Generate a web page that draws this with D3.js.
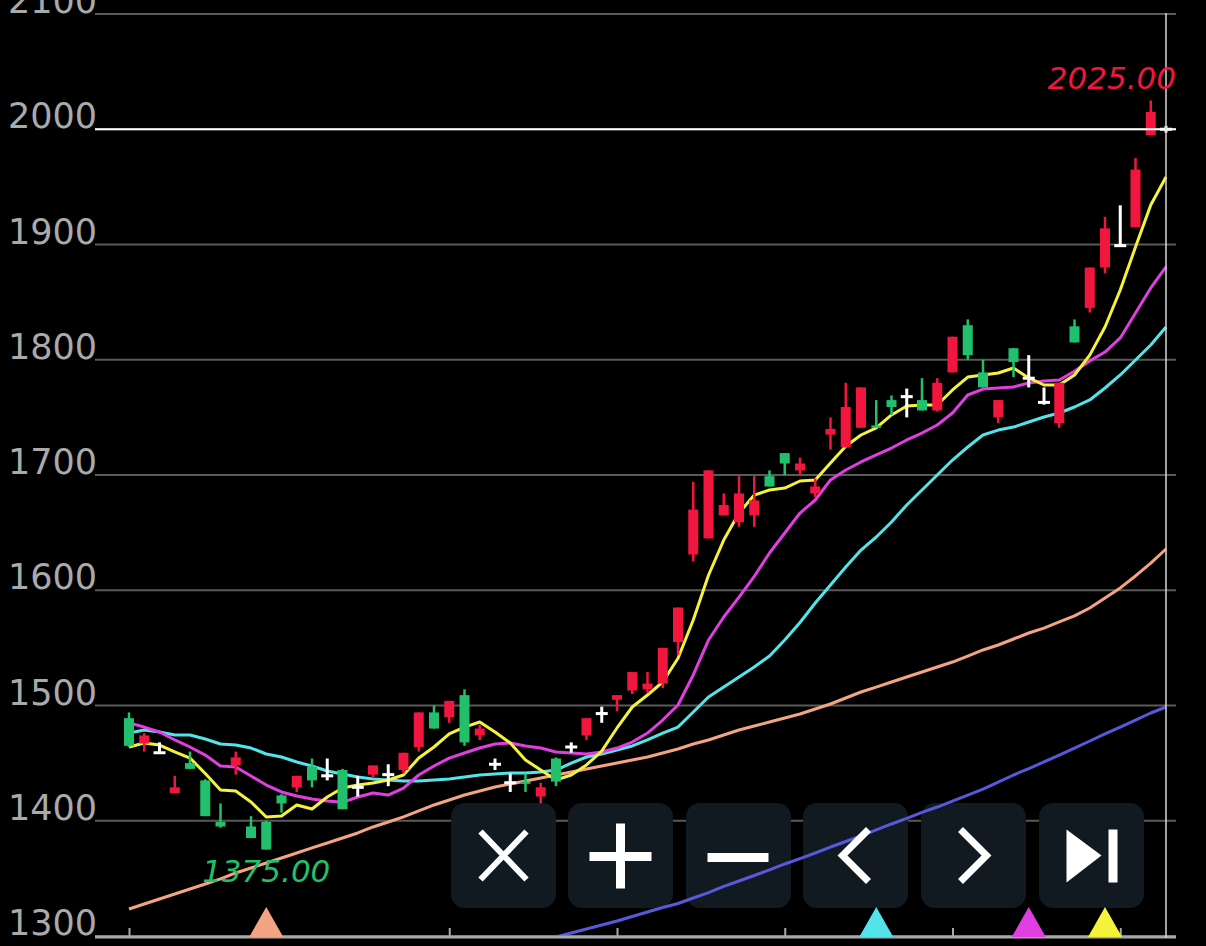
<!DOCTYPE html>
<html>
<head>
<meta charset="utf-8">
<script src="https://cdn.jsdelivr.net/npm/d3@7/dist/d3.min.js"></script>
<style>
  html, body { margin: 0; padding: 0; background: #000; }
  svg { display: block; }
</style>
</head>
<body>
<svg id="chart" width="1206" height="946"></svg>
<script>
// ---------------- DATA ----------------
const opens  = [1489,1467,1459,1424,1450,1435,1399,1448,1395,1399,1422,1429,1447,1439,1444,1429,1440,1440,1444,1464,1494,1490,1509,1474,1449,1433,1434,1421,1454,1464,1474,1493,1505,1513,1514,1519,1555,1631,1645,1665,1659,1665,1699,1719,1704,1684,1735,1724,1741,1743,1765,1768,1765,1756,1789,1830,1789,1750,1810,1784,1763,1745,1829,1845,1880,1899,1915,1995,2000];
const highs  = [1494,1476,1468,1439,1460,1436,1415,1460,1404,1400,1423,1439,1454,1454,1445,1439,1448,1449,1459,1494,1500,1504,1514,1483,1454,1441,1441,1433,1455,1468,1489,1499,1509,1529,1529,1550,1585,1694,1704,1684,1699,1699,1704,1719,1715,1697,1750,1780,1776,1765,1769,1775,1784,1784,1820,1835,1800,1765,1810,1804,1776,1780,1835,1880,1924,1934,1975,2025,2003];
const lows   = [1464,1460,1458,1424,1445,1404,1394,1440,1385,1375,1407,1425,1429,1435,1410,1421,1437,1430,1441,1460,1480,1485,1465,1470,1444,1425,1425,1415,1430,1459,1470,1485,1495,1510,1511,1515,1544,1625,1645,1665,1655,1655,1690,1700,1700,1681,1722,1724,1741,1741,1752,1750,1756,1755,1789,1800,1776,1745,1785,1776,1761,1741,1815,1841,1875,1898,1915,1995,1997];
const closes = [1465,1474,1459,1429,1445,1404,1395,1455,1385,1375,1415,1439,1435,1439,1410,1429,1448,1440,1459,1494,1480,1504,1468,1480,1449,1433,1432,1429,1434,1464,1489,1493,1509,1529,1519,1550,1585,1670,1704,1674,1684,1678,1690,1710,1710,1690,1740,1759,1776,1741,1759,1768,1756,1780,1820,1804,1776,1765,1798,1784,1763,1780,1815,1880,1914,1899,1965,2015,2000];

const ma5   = [1464,1467.5,1465.7,1459.7,1454.4,1441,1426.7,1425.8,1416.3,1403.3,1404.1,1413.7,1410.2,1420.6,1428.4,1431,1432.8,1435.4,1439.7,1454.4,1464,1475.3,1481.3,1485.7,1477,1467.5,1452.7,1444,1435.4,1439.7,1448.4,1460.5,1480.5,1498.7,1509.1,1520.4,1541,1574.2,1613,1643.6,1667,1682.6,1687,1688.7,1694.8,1695.7,1710.4,1725,1734.7,1740.8,1752.1,1759.9,1760.7,1760.7,1773.8,1785,1786.8,1788.5,1792.8,1784.2,1778.1,1778.1,1786.8,1804,1828.4,1860.5,1897.8,1934.3,1958.6];
const ma10  = [1484.8,1481.3,1477,1470.1,1464,1457,1447.5,1446.6,1438.8,1431,1425,1421.5,1418.9,1417.1,1416,1420.6,1424.1,1422.3,1428.4,1439.7,1447.5,1454.4,1458.8,1463.1,1466.6,1467.5,1464.9,1463.1,1459.7,1458.8,1457.9,1459.7,1463.1,1468.3,1476.1,1487.4,1500.4,1526.5,1556.8,1576.8,1594.1,1612,1632.3,1649.7,1667,1678.3,1695.7,1704.3,1711.3,1717.4,1723.4,1730.4,1736.4,1743.4,1753.8,1769.4,1774.6,1775.5,1776.4,1779.8,1781.6,1782.4,1790,1799,1806.7,1818.9,1840.6,1862.3,1880.5];
const ma20  = [1476.1,1478.7,1477,1474.4,1474.4,1470.9,1466.6,1465.7,1463.1,1457.9,1455.3,1451,1447.5,1443.2,1440.6,1438,1436.2,1435.4,1434.5,1434.5,1435.4,1436.2,1438,1439.7,1440.6,1441.4,1441.4,1442.3,1444,1450,1455.3,1457.9,1461.4,1464.9,1470.1,1476.1,1481.3,1494.4,1507.4,1516,1524.7,1533.4,1543,1556.8,1572,1588.9,1604.6,1620.2,1634.9,1646.2,1659.2,1674,1687,1700,1713,1724.3,1734.7,1739,1741.6,1746,1750.3,1753.8,1759,1765.1,1775.5,1786.8,1799.8,1812.8,1828.4];
const ma60  = [1323.4,1327.8,1332.1,1336.4,1340.8,1345.1,1349.5,1354.7,1359,1363.3,1367.7,1372,1376.4,1380.7,1385,1389.4,1394.6,1398.9,1403.3,1408.5,1413.7,1418,1422.3,1425.8,1429.3,1431.9,1434.5,1437.1,1439.7,1442.3,1444.9,1447.5,1450.1,1452.7,1455.3,1458.8,1462.3,1466.6,1470.1,1474.4,1478.7,1482.2,1485.7,1489.2,1492.6,1497,1501.3,1506.5,1511.7,1516,1520.4,1524.7,1529.1,1533.4,1537.7,1542.9,1548.2,1552.5,1557.7,1562.9,1567.2,1572.5,1577.7,1584.6,1593.3,1602,1612.4,1623.6,1635.8];
const ma120 = [null,null,null,null,null,null,null,null,null,null,null,null,null,null,null,null,null,null,null,null,null,null,null,null,null,1289,1292.2,1295.7,1299.1,1302.6,1306.1,1309.5,1313,1316.9,1320.8,1324.7,1328.2,1333,1337.7,1343,1347.7,1352.5,1357.3,1362.5,1367.2,1372,1377.2,1382,1386.8,1392,1397.2,1402,1407.2,1411.9,1417.1,1422.3,1427.5,1433.6,1439.7,1445.3,1451,1457,1463.1,1469.2,1475.3,1481.3,1487.4,1493.5,1498.7];

const yTickValues = [1300,1400,1500,1600,1700,1800,1900,2000,2100];
const yTickLabels = ["1300","1400","1500","1600","1700","1800","1900","2000","2100"];
const xTickIndex  = [0,21,32,43,54,65];
const maxLabel = "2025.00";
const minLabel = "1375.00";
const markerIndex  = [9,49,59,64];
const markerSeries = ["ma60","ma20","ma10","ma5"];

// ---------------- STYLE ----------------
const C = {
  up: "#f2163f", down: "#22c06c", flat: "#ffffff",
  ma5: "#f5f23c", ma10: "#e03ee0", ma20: "#52e4ea", ma60: "#f3a482", ma120: "#5858dc",
  grid: "#5a5a5a", axis: "#a8a8a8", label: "#aaaaaa", btn: "#111a21"
};

const svg = d3.select("#chart");
svg.append("rect").attr("width",1206).attr("height",946).attr("fill","#000");

const n = closes.length;
const x = d3.scaleLinear().domain([0, n-1]).range([129, 1166]);
const y = d3.scaleLinear().domain([1300, 2100]).range([936, 14]);
const plotL = 95, plotR = 1176;

svg.append("defs").append("clipPath").attr("id","plotclip")
  .append("rect").attr("x", plotL).attr("y", 0).attr("width", plotR-plotL).attr("height", 936);

// grid + y labels
const gGrid = svg.append("g");
yTickValues.forEach((v,i) => {
  gGrid.append("line").attr("x1", plotL).attr("x2", plotR)
    .attr("y1", y(v)).attr("y2", y(v))
    .attr("stroke", C.grid).attr("stroke-width", 2);
  gGrid.append("text").attr("x", 8).attr("y", y(v) - 1)
    .attr("fill", C.label).attr("font-family", "DejaVu Sans, sans-serif")
    .attr("font-size", 35).text(yTickLabels[i]);
});

// buttons background (over grid, under series)
const btnX = [451, 568, 686, 803, 921, 1039];
const gBtn = svg.append("g");
btnX.forEach(bx => {
  gBtn.append("rect").attr("x", bx).attr("y", 803).attr("width", 105).attr("height", 105)
    .attr("rx", 14).attr("fill", C.btn);
});

// moving averages
const plot = svg.append("g").attr("clip-path", "url(#plotclip)");
const series = {ma5, ma10, ma20, ma60, ma120};
const line = d3.line().defined(d => d != null).x((d,i) => x(i)).y(d => y(d)).curve(d3.curveLinear);
["ma120","ma60","ma20","ma10","ma5"].forEach(k => {
  plot.append("path").datum(series[k]).attr("d", line)
    .attr("fill","none").attr("stroke", C[k]).attr("stroke-width", 3)
    .attr("stroke-linejoin","round");
});

// candles
const idx = d3.range(n);
const colorOf = i => closes[i] > opens[i] ? C.up : (closes[i] < opens[i] ? C.down : C.flat);
const gC = plot.append("g");
idx.forEach(i => {
  const col = colorOf(i);
  const cx = x(i);
  gC.append("line").attr("x1", cx).attr("x2", cx)
    .attr("y1", y(highs[i])).attr("y2", y(lows[i]))
    .attr("stroke", col).attr("stroke-width", col === C.flat ? 3 : 2.5);
  if (col === C.flat) {
    gC.append("rect").attr("x", cx - 6).attr("y", y(closes[i]) - 1.5)
      .attr("width", 12).attr("height", 3).attr("fill", col);
  } else {
    const top = y(Math.max(opens[i], closes[i])), bot = y(Math.min(opens[i], closes[i]));
    gC.append("rect").attr("x", cx - 5).attr("y", top)
      .attr("width", 10).attr("height", Math.max(2, bot - top)).attr("fill", col);
  }
});

// x axis
const xAxis = d3.axisBottom(x).tickValues(xTickIndex).tickSize(-8).tickFormat(() => "");
const gX = svg.append("g").attr("transform", "translate(0,936)").call(xAxis);
gX.select(".domain").remove();
gX.selectAll(".tick line").attr("stroke", C.axis).attr("stroke-width", 2);
svg.append("line").attr("x1", plotL).attr("x2", plotR).attr("y1", 937).attr("y2", 937)
  .attr("stroke", C.axis).attr("stroke-width", 3);

// crosshair at last candle
const last = n - 1;
svg.append("line").attr("x1", plotL).attr("x2", plotR)
  .attr("y1", y(closes[last])).attr("y2", y(closes[last]))
  .attr("stroke", "#ffffff").attr("stroke-width", 2);
svg.append("line").attr("x1", x(last)).attr("x2", x(last))
  .attr("y1", 13).attr("y2", 938)
  .attr("stroke", "#d8d8d8").attr("stroke-width", 1.5);

// max / min labels
const maxI = d3.maxIndex(highs), minI = d3.minIndex(lows);
svg.append("text").attr("x", 1176).attr("y", y(highs[maxI]) - 11)
  .attr("text-anchor", "end").attr("fill", C.up)
  .attr("font-family", "DejaVu Sans, sans-serif").attr("font-style", "italic")
  .attr("font-size", 31).text(maxLabel);
svg.append("text").attr("x", x(minI)).attr("y", y(lows[minI]) + 32)
  .attr("text-anchor", "middle").attr("fill", C.down)
  .attr("font-family", "DejaVu Sans, sans-serif").attr("font-style", "italic")
  .attr("font-size", 31).text(minLabel);

// cross markers (triangles)
markerIndex.forEach((mi, k) => {
  const cx = x(mi);
  svg.append("path")
    .attr("d", `M${cx-17},937 L${cx},907 L${cx+17},937 Z`)
    .attr("fill", C[markerSeries[k]]);
});

// button icons
const gI = svg.append("g").attr("stroke", "#fff").attr("fill", "none");
const cy = 855.5;
let cx = btnX[0] + 52.5;
gI.append("path").attr("d", `M${cx-23},${cy-24}L${cx+23},${cy+24}M${cx+23},${cy-24}L${cx-23},${cy+24}`).attr("stroke-width", 6);
cx = btnX[1] + 52.5;
gI.append("path").attr("d", `M${cx-31},${cy+1}H${cx+31}M${cx},${cy-32}V${cy+33}`).attr("stroke-width", 9);
cx = btnX[2] + 52.5;
gI.append("path").attr("d", `M${cx-31},${cy+2}H${cx+30}`).attr("stroke-width", 9);
cx = btnX[3] + 52.5;
gI.append("path").attr("d", `M${cx+13},${cy-26}L${cx-13},${cy}L${cx+13},${cy+26}`).attr("stroke-width", 7);
cx = btnX[4] + 52.5;
gI.append("path").attr("d", `M${cx-13},${cy-26}L${cx+13},${cy}L${cx-13},${cy+26}`).attr("stroke-width", 7);
cx = btnX[5] + 52.5;
svg.append("path").attr("d", `M${cx-25},${cy-26}L${cx+10},${cy}L${cx-25},${cy+27}Z`).attr("fill", "#fff");
svg.append("rect").attr("x", cx+17).attr("y", cy-26).attr("width", 9).attr("height", 53).attr("fill", "#fff");
</script>
</body>
</html>
